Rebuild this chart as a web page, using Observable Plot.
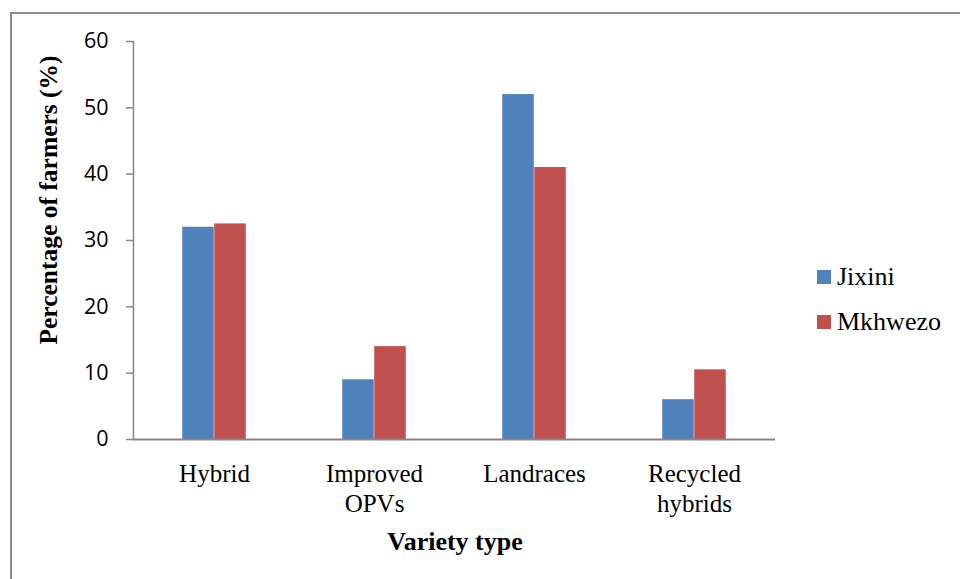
<!DOCTYPE html>
<html>
<head>
<meta charset="utf-8">
<script src="https://cdn.jsdelivr.net/npm/d3@7"></script>
<script src="https://cdn.jsdelivr.net/npm/@observablehq/plot@0.6"></script>
<style>
  html, body { margin: 0; padding: 0; background: #fff; }
  #wrap { position: relative; width: 960px; height: 579px; overflow: hidden; }
  #border { position: absolute; left: 10px; top: 12px; width: 1000px; height: 700px;
            border-left: 2px solid #8c8c8c; border-top: 2px solid #8c8c8c; box-sizing: border-box; }
  #chart { position: absolute; left: 0; top: 0; }
  .serif { font-family: "Liberation Serif", "DejaVu Serif", serif !important; color: #000; }
  #ytitle { position: absolute; left: 49px; top: 200px; font-weight: bold; font-size: 25.5px;
            white-space: nowrap; transform: translate(-50%, -50%) rotate(-90deg); }
  #xtitle { position: absolute; left: 455px; top: 527px; font-weight: bold; font-size: 26px;
            white-space: nowrap; transform: translateX(-50%); }
  .leg { position: absolute; left: 817px; font-size: 26px; white-space: nowrap; display: flex; align-items: center; }
  .sw { width: 14px; height: 14px; margin-right: 6px; }
  #chart g[aria-label="x-axis tick label"], #chart g[aria-label="x-axis tick label"] text {
    font-family: "Liberation Serif", serif !important; font-size: 25px !important; }
  #chart g[aria-label="y-axis tick label"], #chart g[aria-label="y-axis tick label"] text {
    font-family: "Open Sans", sans-serif !important; font-size: 21.5px !important; }
</style>
</head>
<body>
<div id="wrap">
  <div id="border"></div>
  <div id="chart"></div>
  <div id="ytitle" class="serif">Percentage of farmers (%)</div>
  <div id="xtitle" class="serif">Variety type</div>
  <div id="legend"></div>
</div>
<script>
const categories = ["Hybrid", "Improved\nOPVs", "Landraces", "Recycled\nhybrids"];
const seriesNames = ["Jixini", "Mkhwezo"];
const jixini = [32, 9, 52, 6];
const mkhwezo = [32.5, 14, 41, 10.5];
const yTicks = [0, 10, 20, 30, 40, 50, 60];
const colors = ["#4F81BD", "#C0504D"];

const rows = categories.flatMap((c, i) => [
  {category: c, series: seriesNames[0], value: jixini[i]},
  {category: c, series: seriesNames[1], value: mkhwezo[i]}
]);

const W = 960, H = 579, mL = 133, mR = 185, mT = 41, mB = 140;
const band = (W - mL - mR) / categories.length;
const barW = 32;

const plot = Plot.plot({
  width: W, height: H,
  marginLeft: mL, marginRight: mR, marginTop: mT, marginBottom: mB,
  style: {background: "transparent", color: "#000"},
  x: {domain: categories, padding: 0, label: null},
  y: {domain: [0, 60], label: null},
  color: {domain: seriesNames, range: colors},
  marks: [
    Plot.frame({anchor: "left", stroke: "#868686", strokeWidth: 1.5}),
    Plot.barY(rows.filter(d => d.series === seriesNames[0]), {
      x: "category", y: "value", fill: "series",
      insetLeft: band / 2 - barW, insetRight: band / 2
    }),
    Plot.barY(rows.filter(d => d.series === seriesNames[1]), {
      x: "category", y: "value", fill: "series",
      insetLeft: band / 2, insetRight: band / 2 - barW
    }),
    Plot.ruleY([0], {stroke: "#868686", strokeWidth: 2}),
    Plot.axisY({
      ticks: yTicks, tickSize: 7, tickPadding: 18, stroke: "#868686", strokeWidth: 1.5,
      fill: "#000", fontSize: 21.5, label: null
    }),
    Plot.axisX({
      tickSize: 0, tickPadding: 21, fill: "#000", fontSize: 25, lineHeight: 1.2, label: null
    })
  ]
});
document.getElementById("chart").appendChild(plot);

const legend = document.getElementById("legend");
seriesNames.forEach((s, i) => {
  const el = document.createElement("div");
  el.className = "leg serif";
  el.style.top = (262 + i * 45) + "px";
  el.innerHTML = `<div class="sw" style="background:${colors[i]}"></div><span>${s}</span>`;
  legend.appendChild(el);
});
</script>
</body>
</html>
